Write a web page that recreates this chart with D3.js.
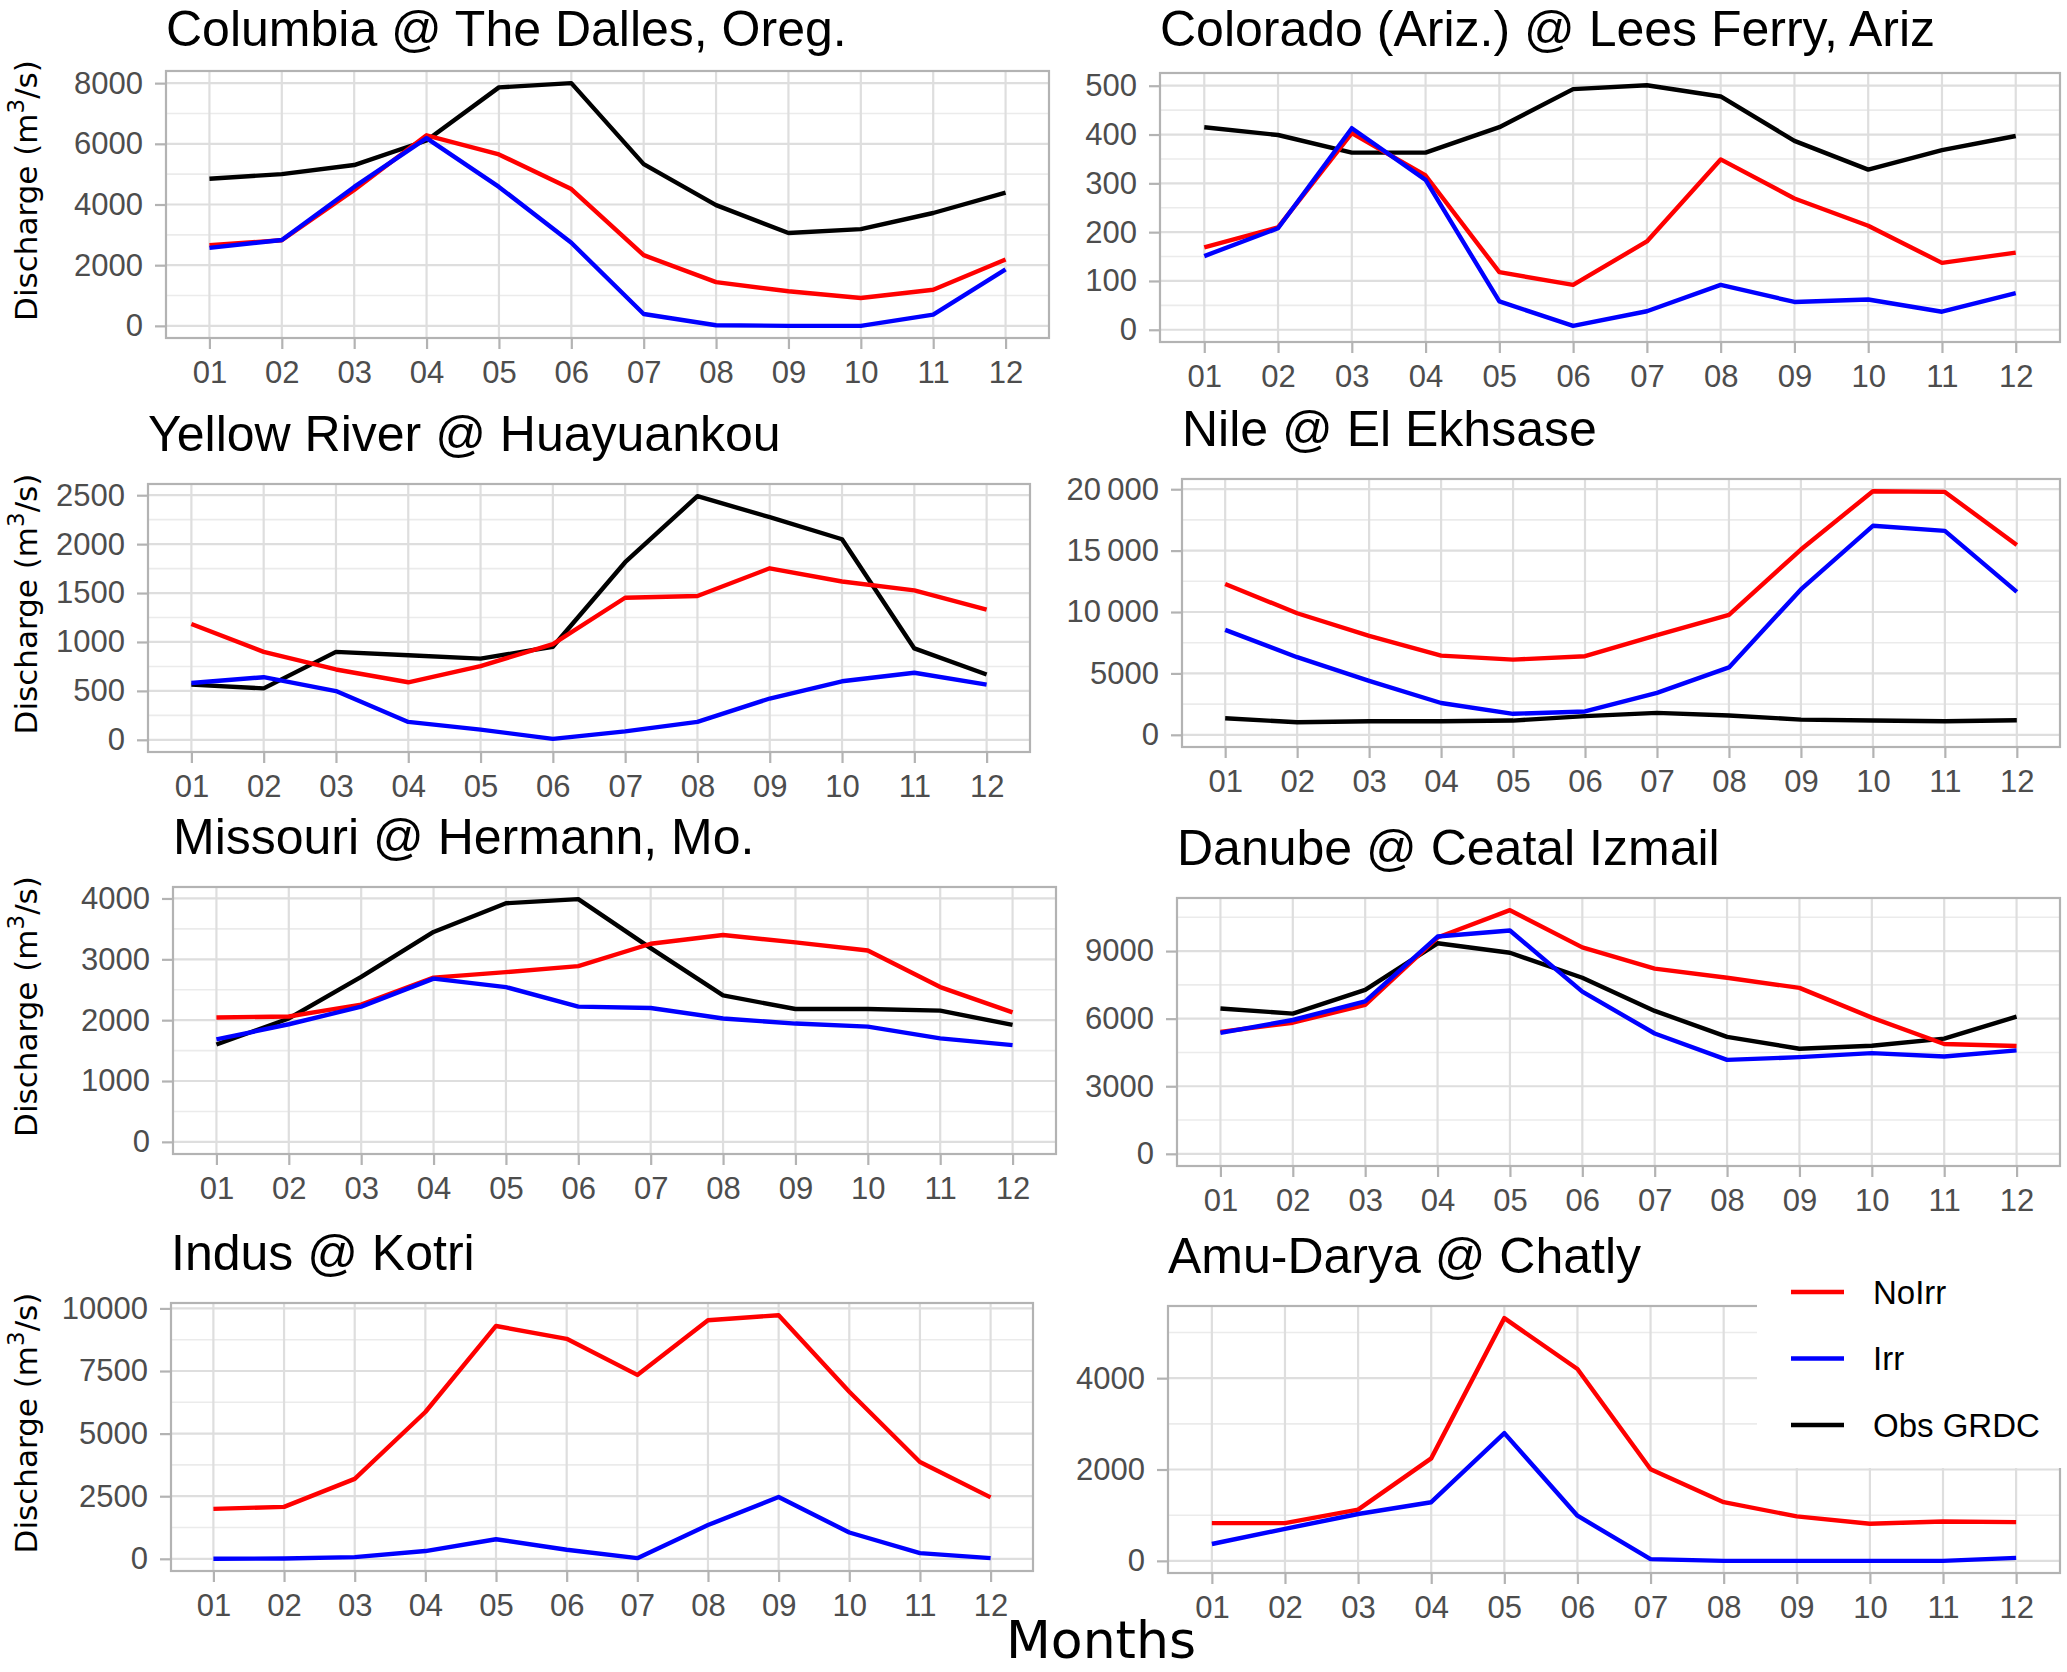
<!DOCTYPE html>
<html>
<head>
<meta charset="utf-8">
<script src="https://cdn.jsdelivr.net/npm/d3@7"></script>
<style>
  body { margin: 0; background: #fff; }
  svg { display: block; }
</style>
</head>
<body>
<div id="chart"></div>
<script>
// months on the x axis
const months = ["01", "02", "03", "04", "05", "06", "07", "08", "09", "10", "11", "12"];

// station titles
const stations = [
  "Columbia @ The Dalles, Oreg.",
  "Colorado (Ariz.) @ Lees Ferry, Ariz",
  "Yellow River @ Huayuankou",
  "Nile @ El Ekhsase",
  "Missouri @ Hermann, Mo.",
  "Danube @ Ceatal Izmail",
  "Indus @ Kotri",
  "Amu-Darya @ Chatly"
];

// discharge (m3/s)
const columbiaNoIrr = [2660, 2820, 4480, 6280, 5650, 4510, 2330, 1440, 1140, 920, 1190, 2190];
const columbiaIrr   = [2570, 2830, 4580, 6190, 4580, 2740, 390, 20, 0, 0, 370, 1860];
const columbiaObs   = [4850, 5000, 5300, 6110, 7860, 8000, 5330, 3980, 3060, 3190, 3720, 4390];

const coloradoNoIrr = [169, 210, 403, 316, 118, 92, 181, 349, 269, 213, 137, 158];
const coloradoIrr   = [151, 208, 413, 307, 58, 8, 38, 92, 57, 62, 37, 75];
const coloradoObs   = [415, 399, 363, 363, 415, 493, 501, 478, 387, 328, 368, 397];

const yellowNoIrr = [1183, 899, 719, 588, 754, 979, 1452, 1470, 1753, 1618, 1528, 1331];
const yellowIrr   = [581, 640, 498, 183, 104, 10, 86, 183, 422, 598, 685, 564];
const yellowObs   = [564, 526, 899, 864, 830, 951, 1815, 2490, 2275, 2050, 934, 667];

const nileNoIrr = [12280, 9900, 8060, 6450, 6120, 6400, 8110, 9770, 15090, 19840, 19780, 15450];
const nileIrr   = [8550, 6320, 4390, 2590, 1710, 1900, 3420, 5490, 11840, 17020, 16610, 11640];
const nileObs   = [1350, 1020, 1100, 1100, 1160, 1520, 1790, 1570, 1240, 1160, 1100, 1190];

const missouriNoIrr = [2044, 2061, 2256, 2700, 2789, 2889, 3256, 3400, 3278, 3144, 2544, 2128];
const missouriIrr   = [1683, 1933, 2222, 2683, 2544, 2222, 2200, 2028, 1944, 1894, 1700, 1589];
const missouriObs   = [1600, 2028, 2711, 3450, 3922, 3989, 3183, 2406, 2183, 2183, 2156, 1922];

const danubeNoIrr = [5415, 5820, 6615, 9600, 10815, 9165, 8220, 7815, 7365, 6045, 4875, 4785];
const danubeIrr   = [5370, 5940, 6765, 9645, 9915, 7200, 5340, 4170, 4290, 4470, 4320, 4590];
const danubeObs   = [6450, 6225, 7275, 9345, 8925, 7815, 6345, 5190, 4665, 4800, 5115, 6090];

const indusNoIrr = [1995, 2075, 3194, 5863, 9299, 8787, 7345, 9528, 9730, 6671, 3868, 2453];
const indusIrr   = [0, 13, 67, 310, 782, 364, 27, 1348, 2466, 1051, 229, 27];
const indusObs   = null;

const amuNoIrr = [827, 827, 1122, 2244, 5314, 4199, 2007, 1284, 974, 812, 863, 849];
const amuIrr   = [369, 701, 1026, 1284, 2797, 989, 37, 0, 0, 0, 0, 66];
const amuObs   = null;

// y axis ticks per station
const yTicks = [
  [0, 2000, 4000, 6000, 8000],
  [0, 100, 200, 300, 400, 500],
  [0, 500, 1000, 1500, 2000, 2500],
  [0, 5000, 10000, 15000, 20000],
  [0, 1000, 2000, 3000, 4000],
  [0, 3000, 6000, 9000],
  [0, 2500, 5000, 7500, 10000],
  [0, 2000, 4000]
];
const nileTickLabels = ["0", "5000", "10\u2009000", "15\u2009000", "20\u2009000"];

const seriesNames = ["NoIrr", "Irr", "Obs GRDC"];
const seriesColors = ["#ff0000", "#0000ff", "#000000"];

const noIrr = [columbiaNoIrr, coloradoNoIrr, yellowNoIrr, nileNoIrr, missouriNoIrr, danubeNoIrr, indusNoIrr, amuNoIrr];
const irr   = [columbiaIrr, coloradoIrr, yellowIrr, nileIrr, missouriIrr, danubeIrr, indusIrr, amuIrr];
const obs   = [columbiaObs, coloradoObs, yellowObs, nileObs, missouriObs, danubeObs, indusObs, amuObs];

// panel rectangles [left, top, right, bottom]
const layout = [
  [166, 71, 1049, 338],
  [1160, 73, 2060, 342],
  [148, 484, 1030, 752],
  [1182, 479, 2060, 747],
  [173, 887, 1056, 1154],
  [1177, 898, 2060, 1166],
  [171, 1303, 1033, 1571],
  [1168, 1306, 2060, 1573]
];

const width = 2067, height = 1672;

const svg = d3.select("#chart").append("svg")
  .attr("width", width)
  .attr("height", height);

svg.append("rect").attr("width", width).attr("height", height).attr("fill", "#fff");

const tickFont = "'Liberation Sans', Arial, sans-serif";

stations.forEach(function(name, i) {
  const [L, T, R, B] = layout[i];
  const series = [obs[i], noIrr[i], irr[i]];
  const sColors = ["#000000", "#ff0000", "#0000ff"];

  const all = [].concat(...series.filter(s => s));
  let lo = Math.min(0, d3.min(all)), hi = d3.max(all);
  const pad = (hi - lo) * 0.05;

  const x = d3.scaleLinear().domain([0.4, 12.6]).range([L, R]);
  const y = d3.scaleLinear().domain([lo - pad, hi + pad]).range([B, T]);

  const g = svg.append("g");

  // minor grid
  const ticks = yTicks[i];
  const step = ticks[1] - ticks[0];
  const minor = [];
  for (let k = -1; k < ticks.length; k++) {
    const v = ticks[0] + step * k + step / 2;
    if (v > y.domain()[0] && v < y.domain()[1]) minor.push(v);
  }
  g.selectAll(".minor").data(minor).enter().append("line")
    .attr("x1", L).attr("x2", R)
    .attr("y1", d => y(d)).attr("y2", d => y(d))
    .attr("stroke", "#ebebeb").attr("stroke-width", 1.6);

  // major grid
  g.selectAll(".hmaj").data(ticks).enter().append("line")
    .attr("x1", L).attr("x2", R)
    .attr("y1", d => y(d)).attr("y2", d => y(d))
    .attr("stroke", "#dedede").attr("stroke-width", 2.2);
  g.selectAll(".vmaj").data(months).enter().append("line")
    .attr("x1", (d, k) => x(k + 1)).attr("x2", (d, k) => x(k + 1))
    .attr("y1", T).attr("y2", B)
    .attr("stroke", "#dedede").attr("stroke-width", 2.2);

  // lines
  const line = d3.line()
    .x((d, k) => x(k + 1))
    .y(d => y(d));
  series.forEach(function(s, k) {
    if (!s) return;
    g.append("path")
      .datum(s)
      .attr("d", line)
      .attr("fill", "none")
      .attr("stroke", sColors[k])
      .attr("stroke-width", 4.4)
      .attr("stroke-linejoin", "round");
  });

  // border
  g.append("rect")
    .attr("x", L).attr("y", T)
    .attr("width", R - L).attr("height", B - T)
    .attr("fill", "none")
    .attr("stroke", "#b3b3b3").attr("stroke-width", 2.2);

  // y axis
  const yAxis = d3.axisLeft(y)
    .tickValues(ticks)
    .tickSize(11)
    .tickPadding(12)
    .tickFormat((d, k) => i === 3 ? nileTickLabels[k] : String(d));
  const ya = svg.append("g").attr("transform", `translate(${L},0)`).call(yAxis);

  // x axis
  const xAxis = d3.axisBottom(x)
    .tickValues(d3.range(1, 13))
    .tickSize(11)
    .tickPadding(12)
    .tickFormat(d => months[d - 1]);
  const xa = svg.append("g").attr("transform", `translate(0,${B})`).call(xAxis);

  [ya, xa].forEach(function(a) {
    a.select(".domain").remove();
    a.selectAll(".tick line").attr("stroke", "#b3b3b3").attr("stroke-width", 2.2);
    a.selectAll(".tick text")
      .attr("fill", "#4d4d4d")
      .style("font-family", tickFont)
      .style("font-size", "31px");
  });

  // title
  svg.append("text")
    .attr("x", L)
    .attr("y", Math.max(T - 33, 46))
    .style("font-family", "'Liberation Sans', Arial, sans-serif")
    .style("font-size", "50px")
    .attr("fill", "#000")
    .text(name);

  // y label on left column
  if (i % 2 === 0) {
    const cy = (T + B) / 2 - 14;
    const t = svg.append("text")
      .attr("transform", `translate(37,${cy}) rotate(-90)`)
      .attr("text-anchor", "middle")
      .style("font-family", "'DejaVu Sans', sans-serif")
      .style("font-size", "31px")
      .attr("fill", "#000");
    t.append("tspan").text("Discharge (m");
    t.append("tspan").attr("dy", -13).style("font-size", "23px").text("3");
    t.append("tspan").attr("dy", 13).text("/s)");
  }
});

// legend (sits over top-right of the last panel)
const lg = svg.append("g");
lg.append("rect")
  .attr("x", 1757).attr("y", 1230)
  .attr("width", width - 1757).attr("height", 1468 - 1230)
  .attr("fill", "#fff");
const rowY = d3.scalePoint().domain(seriesNames).range([1292, 1425]);
seriesNames.forEach(function(n, k) {
  lg.append("line")
    .attr("x1", 1791).attr("x2", 1844)
    .attr("y1", rowY(n)).attr("y2", rowY(n))
    .attr("stroke", seriesColors[k]).attr("stroke-width", 4.4);
  lg.append("text")
    .attr("x", 1873).attr("y", rowY(n))
    .attr("dy", "0.36em")
    .style("font-family", "'Liberation Sans', Arial, sans-serif")
    .style("font-size", "33px")
    .attr("fill", "#000")
    .text(n);
});

// common x label
svg.append("text")
  .attr("x", 1101)
  .attr("y", 1658)
  .attr("text-anchor", "middle")
  .style("font-family", "'DejaVu Sans', sans-serif")
  .style("font-size", "52px")
  .attr("fill", "#000")
  .text("Months");
</script>
</body>
</html>
